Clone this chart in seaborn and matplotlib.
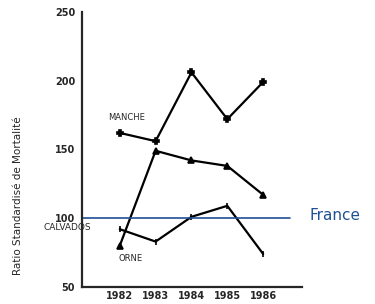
# Ratio standardisé de mortalité - Manche, Calvados, Orne
import pandas as pd
import matplotlib
matplotlib.use("Agg")
import matplotlib.pyplot as plt
import seaborn as sns

annees = [1982, 1983, 1984, 1985, 1986]
manche = [162, 156, 206, 172, 199]
orne = [80, 149, 142, 138, 117]
calvados = [92, 83, 101, 109, 74]
france = 100

sns.set_style("white")
plt.rcParams['font.family'] = ['DejaVu Sans']

df = pd.DataFrame({'annee': annees * 3,
                   'rsm': manche + orne + calvados,
                   'dep': ['MANCHE'] * 5 + ['ORNE'] * 5 + ['CALVADOS'] * 5})

fig = plt.figure(figsize=(3.75, 3.04), dpi=100)
ax = fig.add_axes([0.219, 0.056, 0.586, 0.905])

marqueurs = {'MANCHE': 'P', 'ORNE': '^', 'CALVADOS': '|'}
for dep, m in marqueurs.items():
    d = df[df['dep'] == dep]
    sns.lineplot(data=d, x='annee', y='rsm', ax=ax, color='black', lw=1.6,
                 marker=m, markersize=5, markeredgewidth=1.2,
                 markeredgecolor='black', markerfacecolor='black', legend=False)

ax.axhline(france, xmin=0, xmax=0.945, color='#1f4f95', lw=1.2)
ax.text(1987.3, france + 2, "France", color='#1f4f95', fontsize=11,
        va='center', ha='left', clip_on=False)

ax.text(1982.2, 170, "MANCHE", fontsize=6, ha='center', va='bottom')
ax.text(1981.2, 93, "CALVADOS", fontsize=6.5, ha='right', va='center')
ax.text(1982.3, 71, "ORNE", fontsize=6, ha='center', va='center')

ax.set_xlim(1980.95, 1987.08)
ax.set_ylim(50, 250)
ax.set_yticks([50, 100, 150, 200, 250])
ax.set_xticks(annees)
ax.tick_params(axis='y', length=4, width=1.2, labelsize=7, pad=1, direction='out')
ax.tick_params(axis='x', length=0, labelsize=7, pad=3)
for lab in ax.get_xticklabels() + ax.get_yticklabels():
    lab.set_fontweight('bold')
ax.set_xlabel("")
ax.set_ylabel("Ratio Standardisé de Mortalité", fontsize=7.5)
ax.yaxis.set_label_coords(-0.27, 0.33)
sns.despine(ax=ax)
ax.spines['left'].set_linewidth(1.6)
ax.spines['bottom'].set_linewidth(1.6)

fig.savefig("out.png", dpi=100)
